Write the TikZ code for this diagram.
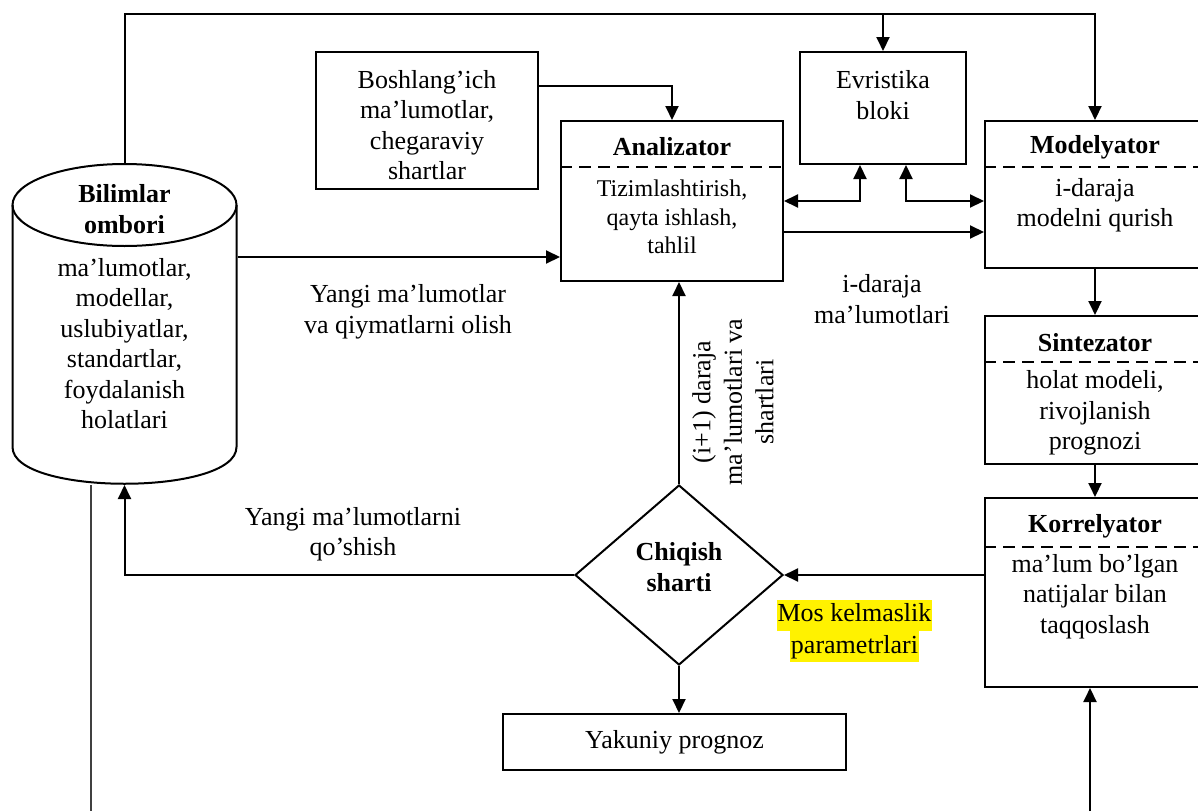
\documentclass[tikz,border=0pt]{standalone}
\usepackage{fontspec}
\setmainfont{Liberation Serif}
\usetikzlibrary{arrows.meta,shapes.geometric}
\begin{document}
\begin{tikzpicture}[x=1pt,y=-1pt, line width=2pt,
 arr/.style={-{Triangle[length=14pt,width=13pt]}},
 darr/.style={{Triangle[length=14pt,width=13pt]}-{Triangle[length=14pt,width=13pt]}},
 box/.style={draw, rectangle, inner sep=0pt},
 txt/.style={align=center, inner sep=0pt, font=\fontsize{26}{30.5}\selectfont},
 ttl/.style={align=center, inner sep=0pt, font=\fontsize{26}{31}\selectfont\bfseries},
 sml/.style={align=center, inner sep=0pt, font=\fontsize{24}{28.5}\selectfont},
 sep/.style={dash pattern=on 12pt off 7pt, line width=1.6pt},
 hl/.style={txt, fill=yellow, inner xsep=1pt, text height=22pt, text depth=9pt}]
\useasboundingbox (0,0) rectangle (1198,811);
\clip (0,0) rectangle (1198,811);

% helper levels
\coordinate (yTop) at (0,14);
\coordinate (yB) at (0,86);
\coordinate (yK) at (0,257);
\coordinate (yE) at (0,201);
\coordinate (yA) at (0,232);
\coordinate (xE1) at (860,0);
\coordinate (xE2) at (906,0);
\coordinate (xK) at (1090,811);
\coordinate (xL) at (91,811);

% knowledge base cylinder
\node[minimum width=224pt, minimum height=320pt, inner sep=0pt] (kb) at (124.5,324) {};
\draw (124.5,205) ellipse [x radius=112, y radius=41];
\draw (12.5,205) -- (12.5,447) .. controls (12.5,496) and (236.5,496) .. (236.5,447) -- (236.5,205);
\node[ttl] (kbT) at (124.5,209) {Bilimlar\\ombori};
\node[txt] (kbB) at (124.5,343.5) {ma’lumotlar,\\modellar,\\uslubiyatlar,\\standartlar,\\foydalanish\\holatlari};

% boxes
\node[box, minimum width=222pt, minimum height=137pt] (bosh) at (427,120.5) {};
\node[txt] (boshT) at (427,125) {Boshlang’ich\\ma’lumotlar,\\chegaraviy\\shartlar};

\node[box, minimum width=222pt, minimum height=160pt] (ana) at (672,201) {};
\draw[sep] (ana.west |- 0,167) -- (ana.east |- 0,167);
\node[ttl] (anaT) at (672,147) {Analizator};
\node[sml] (anaB) at (672,217) {Tizimlashtirish,\\qayta ishlash,\\tahlil};

\node[box, minimum width=166pt, minimum height=112pt] (evr) at (883,108) {};
\node[txt] (evrT) at (883,95) {Evristika\\bloki};

\node[box, minimum width=220pt, minimum height=147pt] (mod) at (1095,194.5) {};
\draw[sep] (mod.west |- 0,167) -- (mod.east |- 0,167);
\node[ttl] (modT) at (1095,147) {Modelyator};
\node[txt] (modB) at (1095,205) {i-daraja\\modelni qurish};

\node[box, minimum width=220pt, minimum height=148pt] (sin) at (1095,390) {};
\draw[sep] (sin.west |- 0,362) -- (sin.east |- 0,362);
\node[ttl] (sinT) at (1095,343) {Sintezator};
\node[txt] (sinB) at (1095,413) {holat modeli,\\rivojlanish\\prognozi};

\node[box, minimum width=220pt, minimum height=189pt] (kor) at (1095,592.5) {};
\draw[sep] (kor.west |- 0,547) -- (kor.east |- 0,547);
\node[ttl] (korT) at (1095,526) {Korrelyator};
\node[txt] (korB) at (1095,596.5) {ma’lum bo’lgan\\natijalar bilan\\taqqoslash};

\node[draw, diamond, minimum width=208pt, minimum height=180pt, inner sep=0pt] (dia) at (679,575) {};
\node[ttl] (diaT) at (679,567.5) {Chiqish\\sharti};

\node[box, minimum width=343pt, minimum height=56pt, font=\fontsize{26}{30.5}\selectfont] (yak) at (674.5,742) {Yakuniy prognoz};

% connectors
\draw[arr] (kb.north) -- (kb.north |- yTop) -| (mod.north);
\draw[arr] (evr.north |- yTop) -- (evr.north);
\draw[arr] (bosh.east |- yB) -| (ana.north);
\draw[arr] (kb.east |- yK) -- (ana.west |- yK);
\draw[darr] (evr.south -| xE1) |- (ana.east |- yE);
\draw[darr] (evr.south -| xE2) |- (mod.west |- yE);
\draw[arr] (ana.east |- yA) -- (mod.west |- yA);
\draw[arr] (mod.south) -- (sin.north);
\draw[arr] (sin.south) -- (kor.north);
\draw[arr] (kor.west |- dia.east) -- (dia.east);
\draw[arr] (dia.north) -- (ana.south -| dia.north);
\draw[arr] (dia.south) -- (yak.north -| dia.south);
\draw[arr] (dia.west) -| (kb.south);
\draw[line width=1.3pt, black!75] (kb.south -| xL) -- (xL);
\draw[arr] (xK) -- (kor.south -| xK);

% labels
\node[txt] (l1) at (408,312) {Yangi ma’lumotlar\\va qiymatlarni olish};
\node[txt] (l2) at (882,299) {i-daraja\\ma’lumotlari};
\node[txt, rotate=90, font=\fontsize{26}{31.5}\selectfont] (l3) at (733,402) {(i+1) daraja\\ma’lumotlari va\\shartlari};
\node[txt] (l4) at (353,534) {Yangi ma’lumotlarni\\qo’shish};
\node[hl] (l5) at (854.5,615) {Mos kelmaslik};
\node[hl] (l6) at (854.5,646.5) {parametrlari};
\end{tikzpicture}
\end{document}
